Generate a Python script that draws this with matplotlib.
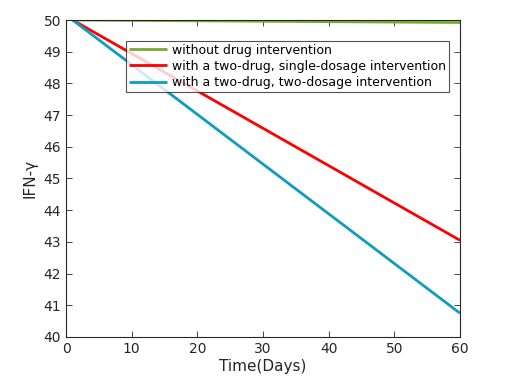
import matplotlib
matplotlib.use("Agg")
import matplotlib.pyplot as plt

days = [1, 60]
no_drug = [50.0, 49.92]
single_dose = [50.0, 43.05]
two_dose = [50.0, 40.75]

labels = ["without drug intervention",
          "with a two-drug, single-dosage intervention",
          "with a two-drug, two-dosage intervention"]
xticks = [0, 10, 20, 30, 40, 50, 60]
yticks = list(range(40, 51))

plt.rcParams['font.family'] = ['DejaVu Sans']
fig = plt.figure(figsize=(5.08, 3.81), dpi=100)
ax = fig.add_axes([0.13, 0.1155, 0.7755, 0.832])
ax.plot(days, no_drug, color='#77ac30', lw=2, label=labels[0], solid_capstyle='butt')
ax.plot(days, single_dose, color='#ff0000', lw=2, label=labels[1], solid_capstyle='butt')
ax.plot(days, two_dose, color='#0e9cc0', lw=2, label=labels[2], solid_capstyle='butt')
ax.set_xlim(0, 60)
ax.set_ylim(40, 50)
ax.set_xticks(xticks)
ax.set_yticks(yticks)
ax.tick_params(direction='in', top=True, right=True, labelsize=10, colors='#262626', length=4, width=0.6)
for s in ax.spines.values():
    s.set_color('#262626')
    s.set_linewidth(0.8)
ax.set_xlabel('Time(Days)', fontsize=11, color='#262626', labelpad=2)
ax.set_ylabel('IFN-γ', fontsize=11, color='#262626', labelpad=4)
leg = ax.legend(loc='upper left', bbox_to_anchor=(0.152, 0.935), fontsize=9,
                frameon=True, fancybox=False, edgecolor='#262626', borderpad=0.25,
                handlelength=3.0, handletextpad=0.4, labelspacing=0.25, borderaxespad=0)
leg.get_frame().set_linewidth(0.8)
fig.savefig('out.png', dpi=100)
